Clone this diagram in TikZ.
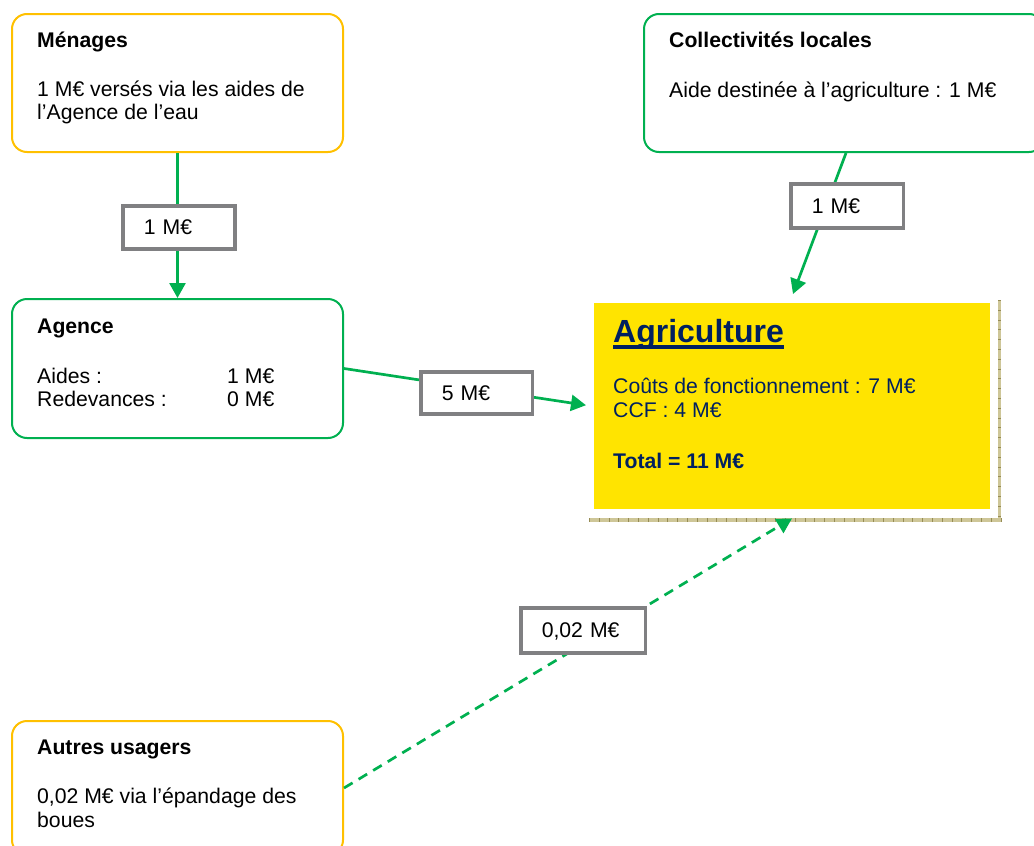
\documentclass[tikz,border=0pt]{standalone}
\usepackage{fontspec}
\setmainfont{Liberation Sans}
\usetikzlibrary{arrows.meta,calc}
\definecolor{flowgreen}{RGB}{0,176,80}
\definecolor{actororange}{RGB}{255,192,0}
\definecolor{tagframe}{RGB}{128,128,130}
\definecolor{agriyellow}{RGB}{255,228,0}
\definecolor{agrinavy}{RGB}{0,32,96}
\definecolor{shadowkhaki}{RGB}{206,198,152}
\definecolor{shadowtick}{RGB}{150,140,85}
\begin{document}
\begin{tikzpicture}[x=1pt,y=-1pt,
  every node/.style={font=\fontsize{21.2}{24}\selectfont, inner sep=0pt},
  actor/.style={draw=#1, line width=2pt, rounded corners=15pt, anchor=north west, minimum width=331pt},
  txt/.style={anchor=base west},
  tag/.style={draw=tagframe, line width=3.5pt, fill=white, anchor=north west, align=left,
    inner xsep=21pt, text width=#1, text height=15pt, text depth=0pt},
  flow/.style={draw=flowgreen, line width=2.7pt, -{Triangle[length=15pt,width=16pt]}},
  dashedflow/.style={flow, dash pattern=on 10pt off 7pt},
]
\clip (0,0) rectangle (1034,846);

% actor boxes
\node[actor=actororange, minimum height=138pt] (men) at (11,13) {};
\node[actor=flowgreen, minimum width=400pt, minimum height=138pt] (coll) at (643,13) {};
\node[actor=flowgreen, minimum height=139pt] (age) at (11,298) {};
\node[actor=actororange, minimum height=134pt] (aut) at (11,720) {};

% texts of the actor boxes
\node[txt] at ($(men.north west)+(26,34)$) {\textbf{Ménages}};
\node[txt] at ($(men.north west)+(26,83)$) {1 M€ versés via les aides de};
\node[txt] at ($(men.north west)+(26,106)$) {l’Agence de l’eau};

\node[txt] at ($(coll.north west)+(26,34)$) {\textbf{Collectivités locales}};
\node[txt] at ($(coll.north west)+(26,84)$) {Aide destinée à l’agriculture : 1 M€};

\node[txt] at ($(age.north west)+(26,35)$) {\textbf{Agence}};
\node[txt] at ($(age.north west)+(26,85)$) {Aides :};
\node[txt] at ($(age.north west)+(26,108)$) {Redevances :};
\node[txt] at ($(age.north west)+(216,85)$) {1 M€};
\node[txt] at ($(age.north west)+(216,108)$) {0 M€};

\node[txt] at ($(aut.north west)+(26,34)$) {\textbf{Autres usagers}};
\node[txt] at ($(aut.north west)+(26,83)$) {0,02 M€ via l’épandage des};
\node[txt] at ($(aut.north west)+(26,107)$) {boues};

% agriculture panel with its textured shadow frame
\fill[shadowkhaki] (589,517.5) rectangle (1001,522);
\fill[shadowkhaki] (997.5,300) rectangle (1001,522);
\draw[shadowtick, line width=4.5pt, dash pattern=on 0.8pt off 9pt] (589,519.75) -- (1001,519.75);
\draw[shadowtick, line width=3.5pt, dash pattern=on 0.8pt off 9pt] (999.25,300) -- (999.25,522);
\node[fill=agriyellow, anchor=north west, minimum width=396pt, minimum height=206pt] (agri) at (594,303) {};

\node[txt, font=\fontsize{32}{36}\selectfont\bfseries, text=agrinavy] (agrititle)
  at ($(agri.north west)+(19,39)$) {Agriculture};
\draw[agrinavy, line width=3.5pt] ($(agrititle.base west)+(0,5)$) -- ($(agrititle.base east)+(0,5)$);
\node[txt, text=agrinavy] at ($(agri.north west)+(19,90)$) {Coûts de fonctionnement : 7 M€};
\node[txt, text=agrinavy] at ($(agri.north west)+(19,114)$) {CCF : 4 M€};
\node[txt, text=agrinavy] at ($(agri.north west)+(19,165)$) {\textbf{Total = 11 M€}};

% money flows
\draw[flow] (men.south) -- (age.north);
\draw[flow] ([xshift=203pt]coll.south west) -- ([xshift=199pt,yshift=9pt]agri.north west);
\draw[flow] (age.east) -- ([xshift=-8pt,yshift=1pt]agri.west);
\draw[dashedflow] (aut.east) -- ([xshift=198pt,yshift=-9pt]agri.south west);

% amount tags on the flows
\node[tag=70pt, minimum height=43pt] (t1) at (121,204) {1 M€};
\node[tag=70.5pt, minimum height=44pt] (t2) at (789,182) {1 M€};
\node[tag=69.5pt, minimum height=42pt] (t3) at (419,370) {5 M€};
\node[tag=82.5pt, minimum height=45pt] (t4) at (519,606) {0,02 M€};
\end{tikzpicture}
\end{document}
